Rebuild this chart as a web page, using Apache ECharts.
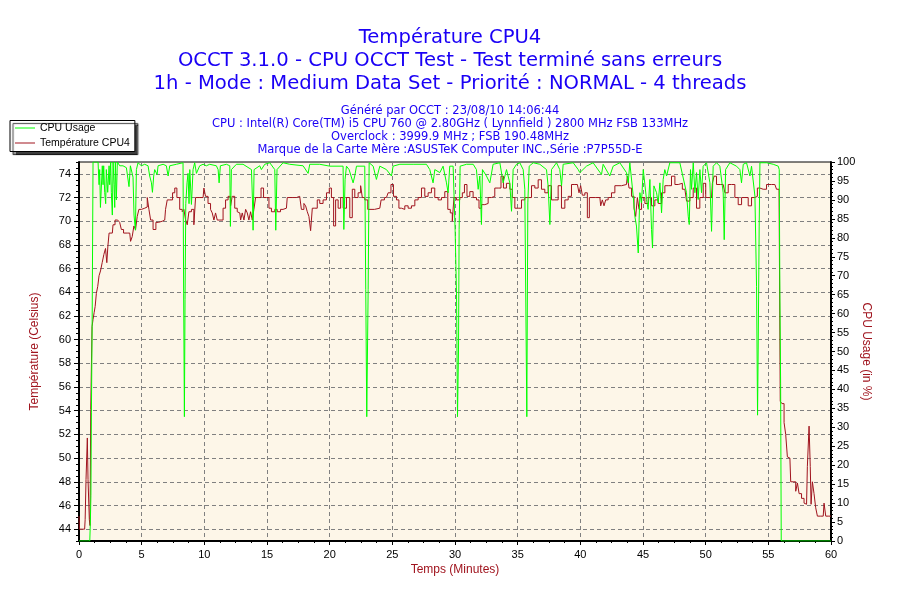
<!DOCTYPE html>
<html><head><meta charset="utf-8">
<script src="https://cdn.jsdelivr.net/npm/echarts@6/dist/echarts.min.js"></script>
<style>html,body{margin:0;padding:0;background:#fff}#c{width:900px;height:600px}</style>
</head><body><div id="c"></div>
<script>
const titleLines = [
  'Température CPU4',
  'OCCT 3.1.0 - CPU OCCT Test - Test terminé sans erreurs',
  '1h - Mode : Medium Data Set - Priorité : NORMAL - 4 threads'
];
const infoLines = [
  'Généré par OCCT : 23/08/10 14:06:44',
  'CPU : Intel(R) Core(TM) i5 CPU 760 @ 2.80GHz ( Lynnfield ) 2800 MHz FSB 133MHz',
  'Overclock : 3999.9 MHz ; FSB 190.48MHz',
  'Marque de la Carte Mère :ASUSTeK Computer INC.,Série :P7P55D-E'
];
const seriesNames = ['CPU Usage', 'Température CPU4'];
const tempTicks = [44,46,48,50,52,54,56,58,60,62,64,66,68,70,72,74];

// [minutes, °C]
const temperature = [
[0,45.1],[0.06,44],[0.45,44],[0.53,44.8],[0.59,48.2],[0.64,48.2],[0.69,51.7],[0.75,48.2],[0.80,48.2],[0.85,44.8],[0.91,44.3],[0.96,54.1],[1.01,54.1],[1.07,61.1],[1.17,61.7],[1.25,62.3],[1.33,62.8],[1.44,63.9],[1.55,64.5],[1.65,65.4],[1.78,65.8],[1.92,66.5],[2.05,67.2],[2.18,67.7],[2.26,66.5],[2.35,67.9],[2.45,69],[2.66,69],[2.77,69.7],[2.98,70.1],[3.19,70.2],[3.30,69.9],[3.46,69.3],[3.65,69],[4.05,69],[4.18,68.3],[4.31,68.7],[4.45,69.6],[4.58,69.3],[4.71,70.4],[4.85,71],[5.11,71.1],[5.38,71.2],[5.51,72],[5.65,71],[5.78,70.1],[6.04,69.3],[6.23,69.9],[6.44,70],[6.84,70.1],[6.97,71],[7.11,71.8],[7.37,71.8],[7.56,72.4],[7.72,72.8],[7.90,72],[8.17,71],[8.30,70.8],[8.44,71],[8.57,70.1],[8.70,69.7],[8.84,70.8],[9.10,71],[9.23,69.7],[9.37,72],[9.90,72],[10.03,72.8],[10.16,72.1],[10.43,71.5],[10.56,71],[10.70,70.7],[10.83,70.1],[10.96,70.7],[11.10,70.1],[11.36,70.1],[11.63,71.1],[11.76,71.8],[12.03,72.1],[12.16,71.3],[12.29,72.1],[12.56,71.1],[12.69,70.8],[12.83,70.7],[12.96,70.1],[13.09,70.7],[13.23,70.1],[13.36,71],[13.49,70.7],[13.62,70.1],[13.76,70.8],[13.89,70.1],[14.02,71],[14.16,72],[14.42,72],[14.63,72.8],[14.82,72],[15.09,72],[15.22,71.1],[15.49,70.8],[15.75,71],[15.88,70.8],[16.28,71],[16.55,71.1],[16.68,72],[17.35,72],[17.61,72.1],[17.88,71],[18.01,71.5],[18.15,71.3],[18.28,70.8],[18.41,70.4],[18.55,69.2],[18.68,71.1],[18.94,71.1],[19.08,71.8],[19.34,71.5],[19.61,71.8],[19.88,72.4],[20.06,72.8],[20.22,72],[20.41,69.6],[20.54,71.8],[20.81,71.1],[20.94,72],[21.21,71.1],[21.47,72],[21.74,70.3],[21.87,72.7],[22.14,72],[22.40,72.4],[22.54,73],[22.67,72],[22.93,71.8],[23.15,71],[24.0,71.1],[24.21,71.8],[24.53,72],[24.80,72.4],[24.98,73.1],[25.20,72.1],[25.46,71.8],[25.59,71.1],[25.86,71],[26.13,71.3],[26.39,71.1],[26.66,71.3],[26.93,71.8],[27.19,72],[27.46,72.8],[27.72,72.1],[27.99,72.4],[28.25,72.8],[28.52,72],[28.79,71.8],[29.05,72],[29.32,72.5],[29.53,71],[29.72,70.7],[29.85,70],[29.98,72],[30.25,71.8],[30.52,72],[30.65,72.4],[30.86,73.1],[31.05,72.1],[31.31,72.5],[31.58,72],[31.85,71.8],[31.98,71.1],[32.25,71.4],[32.51,71.5],[32.78,72],[33.04,72.1],[33.31,72.8],[33.58,72.8],[33.76,73.8],[33.97,72.8],[34.24,73.2],[34.51,72.7],[34.64,72],[34.91,71.1],[35.17,71.1],[35.44,71.8],[35.70,72],[35.97,72],[36.24,73],[36.50,72.8],[36.77,73.5],[37.03,72.7],[37.30,72.4],[37.57,73],[37.83,71.8],[38.10,71.8],[38.36,73],[38.63,71.1],[38.90,71.8],[39.16,72.1],[39.43,73.1],[39.70,73.1],[39.83,73.1],[39.96,72.4],[40.09,73],[40.23,72.2],[40.49,72.4],[40.63,70.3],[40.81,72],[41.56,72],[41.69,71.3],[41.82,71.8],[41.96,71.3],[42.09,71.8],[42.35,72],[42.62,72.4],[42.89,73],[43.68,73.1],[43.82,73.8],[43.95,72.8],[44.22,72.1],[44.35,71.1],[44.48,70.4],[44.62,72],[44.75,71],[45.02,72],[45.28,71.5],[45.55,72],[45.81,71.3],[46.08,71.8],[46.35,71.5],[46.61,72.4],[46.88,73],[47.14,73],[47.41,73.8],[47.68,73.1],[47.94,73.2],[48.34,72.7],[48.61,71.7],[48.87,72],[49.14,72.8],[49.40,71.1],[49.67,72],[49.94,73.2],[50.07,72],[50.47,72],[50.60,73.2],[50.73,73.8],[51.00,73.1],[51.40,73.1],[51.67,72.4],[51.93,73.1],[52.20,73.1],[52.46,72],[52.73,71.4],[53.00,72],[53.26,72],[53.53,71.3],[53.79,72],[54.06,72.1],[54.19,72.8],[54.46,72.7],[54.72,72.7],[54.99,73.1],[55.52,73.1],[55.79,72.7],[55.92,72.8],[55.98,54.8],[56.19,54.6],[56.32,53],[56.45,52],[56.59,50.1],[56.72,50],[56.85,48],[57.12,48],[57.25,47.2],[57.39,47.9],[57.52,47],[57.78,46.6],[57.92,46.2],[58.05,46.1],[58.18,49.3],[58.32,52.7],[58.37,49.3],[58.45,46.1],[58.58,48],[58.71,47],[58.85,45.8],[58.98,45.1],[59.38,45.1],[59.51,46.2],[59.65,45.1],[60,45.1]
];

// [minutes, %]
const cpuUsage = [
[0,0],[0.86,0],[0.90,4],[0.95,12],[0.99,34],[1.05,58],[1.12,100],[1.52,100],[1.60,94],[1.65,98],[1.71,88],[1.81,88],[1.86,99],[1.92,94],[1.97,99],[2.05,92],[2.13,89],[2.18,98],[2.29,92],[2.40,99],[2.45,94],[2.53,100],[2.58,92],[2.66,86],[2.72,100],[2.80,94],[2.85,88],[2.90,100],[2.98,90],[3.06,100],[3.25,99],[3.51,99],[3.78,98.5],[3.91,98],[3.99,93.5],[4.10,99],[4.31,96],[4.39,86],[4.50,82],[4.58,98],[4.71,99.8],[4.98,99],[5.24,99.4],[5.51,99],[5.64,96.3],[5.78,94.5],[5.86,92],[5.96,96.3],[6.04,98],[6.23,96.7],[6.31,99],[6.71,99.4],[6.97,99],[7.11,96.3],[7.24,99],[7.77,99.4],[8.30,99.8],[8.35,65.4],[8.41,32.8],[8.46,63.7],[8.52,89],[8.62,94.5],[8.70,97],[8.78,89],[8.84,98],[8.97,88.8],[9.10,98],[9.23,99.8],[9.37,97],[9.63,99],[9.90,99.4],[10.16,99],[10.43,99.4],[10.96,99],[11.10,98],[11.18,94.5],[11.28,99],[11.76,99.4],[12.03,99],[12.08,83],[12.16,98],[12.56,99.4],[13.09,99.4],[13.76,98],[13.84,90],[13.89,82],[13.97,98],[14.42,99],[14.55,98],[14.82,99.4],[15.22,99.8],[15.62,98],[15.70,82],[15.80,98],[16.28,99.8],[16.81,99.4],[17.88,99],[18.28,97],[18.41,99.4],[19.21,99.4],[20.01,98.9],[21.07,98.9],[21.13,82.2],[21.23,95.4],[21.34,98.9],[21.55,98],[21.87,94.5],[22.0,96.3],[22.14,98.9],[22.80,98.9],[22.88,66.3],[22.96,32.8],[23.07,66.3],[23.15,99.8],[23.47,98.9],[23.73,95.4],[24.0,98.9],[24.53,98],[24.93,96.3],[25.06,98.9],[25.6,99.4],[26.66,99.4],[27.72,99.4],[27.99,98],[28.25,94.5],[28.39,98],[28.79,97.2],[29.05,98.9],[29.32,94.5],[29.45,91.9],[29.58,98.9],[29.85,98.9],[30.01,82],[30.12,65.4],[30.2,32.8],[30.28,50.4],[30.33,82.2],[30.41,98.9],[30.92,99.4],[31.45,99.4],[31.71,98],[31.85,92.8],[31.98,96.3],[32.11,83.5],[32.19,98],[32.51,96.3],[32.78,94.5],[33.04,99.4],[33.58,99.8],[33.84,94.5],[34.11,98],[34.37,94.5],[34.51,87],[34.64,98],[34.91,99.4],[35.17,99.8],[35.44,98],[35.57,92.8],[35.65,62.8],[35.73,32.8],[35.81,89.2],[35.92,98.9],[36.24,99.8],[36.77,99.4],[37.30,98],[37.43,93.7],[37.57,83.5],[37.70,98],[38.10,99.8],[38.36,98],[38.50,93.7],[38.63,99.4],[39.43,99.8],[39.83,98],[39.96,97.2],[40.49,98.9],[41.02,99.8],[41.69,96.7],[41.82,99.4],[42.35,96.3],[42.62,98.9],[43.15,99.8],[43.68,97.2],[43.82,94.5],[43.95,99.8],[44.22,91],[44.35,85.7],[44.48,83.1],[44.62,76],[44.75,91.9],[44.88,89.2],[45.02,98],[45.28,90.1],[45.41,87.5],[45.55,95.4],[45.68,82.2],[45.76,77.3],[45.87,93.7],[46.08,91.9],[46.21,89.2],[46.35,94.5],[46.48,86.6],[46.61,95.4],[46.74,98],[46.88,96.3],[47.14,99.8],[47.94,99.8],[48.47,91.9],[48.61,85.7],[48.69,83.5],[48.79,98],[48.87,92.8],[49.01,99.8],[49.14,91.9],[49.27,97.2],[49.40,90.1],[49.54,98],[49.67,91.9],[49.80,98.9],[50.07,99.8],[50.34,94.5],[50.47,81.7],[50.60,98.9],[50.87,99.8],[51.13,98.9],[51.40,91.9],[51.48,79.5],[51.59,98],[51.93,99.8],[52.46,98.9],[52.73,98],[52.86,94.5],[53.0,99.4],[53.26,99.8],[53.53,96.3],[53.66,98.9],[53.93,91],[54.06,67.2],[54.14,33.2],[54.19,50.4],[54.27,83.1],[54.33,99.8],[54.86,99.8],[55.39,99.4],[55.79,98.9],[55.87,98],[55.92,65.4],[55.98,41.6],[56.03,0],[60,0]
];

const FONT = '"Liberation Sans", Arial, sans-serif';
const TFONT = '"DejaVu Sans", Verdana, sans-serif';
const BLUE = '#1a00f5';
const RED = '#a0141e';
const GRID = {left: 79, right: 69, top: 162, bottom: 59};

const titles = [];
const titleTops = [28.2, 51.2, 74.2];
titleLines.forEach((t, i) => titles.push({
  text: t, left: 'center', top: titleTops[i], padding: 0,
  textStyle: {fontFamily: TFONT, fontSize: 19.6, fontWeight: 'normal', color: BLUE}
}));
const infoTops = [105, 118, 131, 144];
infoLines.forEach((t, i) => titles.push({
  text: t, left: 'center', top: infoTops[i], padding: 0,
  textStyle: {fontFamily: TFONT, fontSize: 11.5, fontWeight: 'normal', color: BLUE}
}));

const chart = echarts.init(document.getElementById('c'), null, {renderer: 'canvas'});
chart.setOption({
  animation: false,
  backgroundColor: '#ffffff',
  textStyle: {fontFamily: FONT},
  title: titles,
  legend: {
    data: seriesNames,
    orient: 'vertical',
    left: 10, top: 120.5,
    padding: [2, 5, 3, 5],
    itemGap: 4,
    itemWidth: 20, itemHeight: 1,
    itemTextGap: 5,
    icon: 'rect',
    backgroundColor: '#ffffff',
    borderColor: '#000000', borderWidth: 1, borderRadius: 0,
    shadowColor: 'rgba(0,0,0,0.75)', shadowBlur: 1, shadowOffsetX: 3, shadowOffsetY: 3,
    textStyle: {fontFamily: FONT, fontSize: 10.5, color: '#000'}
  },
  grid: Object.assign({show: true, backgroundColor: '#fdf6e8', borderColor: '#000', borderWidth: 1}, GRID),
  xAxis: {
    type: 'value', min: 0, max: 60, interval: 5,
    name: 'Temps (Minutes)', nameLocation: 'middle', nameGap: 23, nameMoveOverlap: false,
    nameTextStyle: {fontFamily: FONT, fontSize: 12, color: RED},
    axisLine: {lineStyle: {color: '#000', width: 2}},
    axisTick: {length: 4, lineStyle: {color: '#000'}},
    minorTick: {show: true, splitNumber: 4, length: 2, lineStyle: {color: '#000'}},
    axisLabel: {margin: 8, fontSize: 11, color: '#000', fontFamily: FONT},
    splitLine: {show: true, lineStyle: {color: '#808080', type: [4, 3], width: 1}}
  },
  yAxis: [
    {
      type: 'value', min: 43, max: 75, position: 'left',
      name: 'Température (Celsius)', nameLocation: 'middle', nameGap: 38, nameRotate: 90, nameMoveOverlap: false,
      nameTextStyle: {fontFamily: FONT, fontSize: 12, color: RED},
      axisLine: {show: true, lineStyle: {color: '#000', width: 2}},
      axisTick: {show: true, length: 5, customValues: tempTicks, lineStyle: {color: '#000'}},
      axisLabel: {customValues: tempTicks, margin: 8, fontSize: 11, color: '#000', fontFamily: FONT},
      splitLine: {show: true, lineStyle: {color: '#808080', type: [4, 3], width: 1}}
    },
    {
      type: 'value', min: 0, max: 100, interval: 5, position: 'right',
      name: 'CPU Usage (in %)', nameLocation: 'middle', nameGap: 29, nameRotate: -90, nameMoveOverlap: false,
      nameTextStyle: {fontFamily: FONT, fontSize: 12, color: RED},
      axisLine: {show: true, lineStyle: {color: '#000', width: 2}},
      axisTick: {show: true, length: 4, lineStyle: {color: '#000'}},
      minorTick: {show: true, splitNumber: 5, length: 2, lineStyle: {color: '#000'}},
      axisLabel: {margin: 6, fontSize: 11, color: '#000', fontFamily: FONT},
      splitLine: {show: false}
    },
    {
      type: 'value', min: 43, max: 75, interval: 0.5, position: 'left',
      axisLine: {show: false},
      axisTick: {show: true, length: 3, lineStyle: {color: '#000'}},
      axisLabel: {show: false},
      splitLine: {show: false}
    }
  ],
  series: [
    {
      name: seriesNames[1], type: 'line', yAxisIndex: 0, data: temperature,
      step: 'middle', showSymbol: false, symbol: 'none',
      lineStyle: {color: RED, width: 1}, itemStyle: {color: RED}, z: 2
    },
    {
      name: seriesNames[0], type: 'line', yAxisIndex: 1, data: cpuUsage,
      showSymbol: false, symbol: 'none',
      lineStyle: {color: '#00ff00', width: 1}, itemStyle: {color: '#00ff00'}, z: 3
    }
  ]
});
</script>
</body></html>
